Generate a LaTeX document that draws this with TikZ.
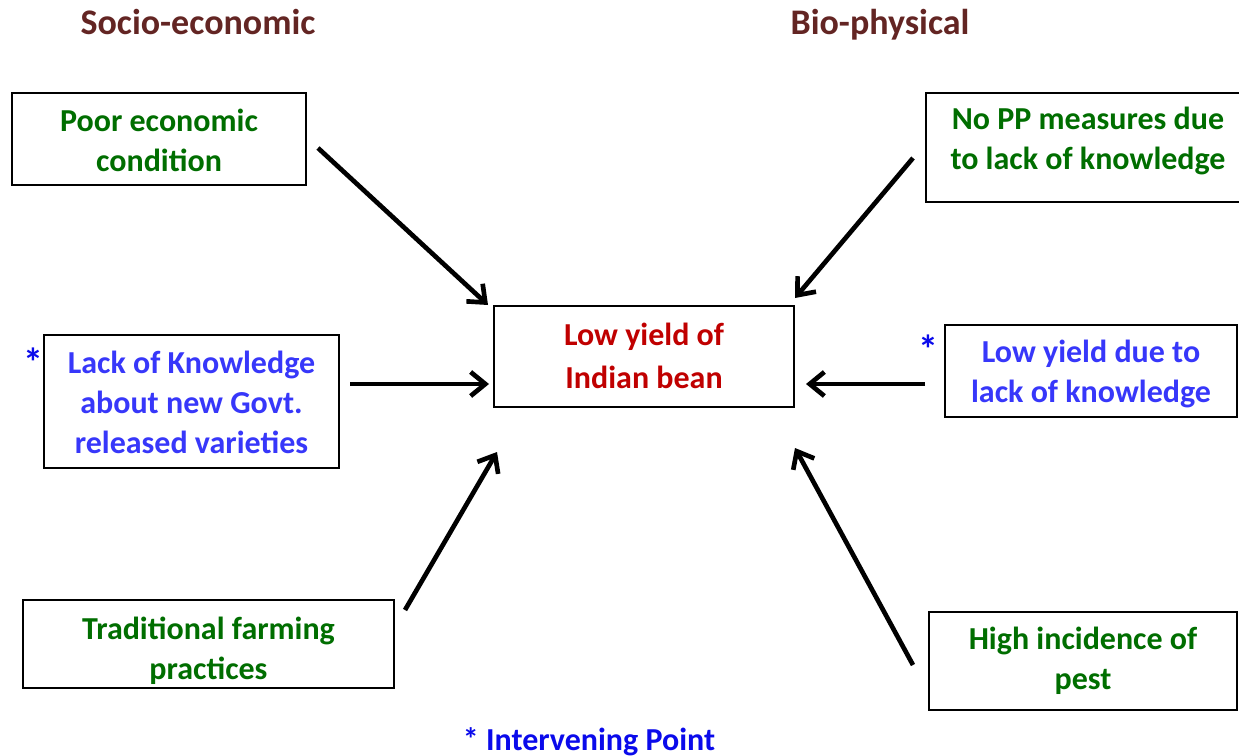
\documentclass[tikz,border=0pt]{standalone}
\usepackage{fontspec}
\setmainfont{Carlito}
\usetikzlibrary{arrows.meta}
\definecolor{titlebrown}{RGB}{99,37,35}
\definecolor{boxgreen}{RGB}{0,110,0}
\definecolor{boxblue}{RGB}{55,55,250}
\definecolor{starblue}{RGB}{10,10,235}
\definecolor{boxred}{RGB}{192,0,0}
\tikzset{
  every node/.style={font=\bfseries\fontsize{24}{30}\selectfont},
  frame/.style={draw=black, line width=2.2pt, fill=white, inner sep=0pt},
  centerframe/.style={draw=black, line width=1.6pt, fill=white, inner sep=0pt},
  greentext/.style={align=center, text=boxgreen, inner sep=0pt},
  bluetext/.style={align=center, text=boxblue, inner sep=0pt},
  redtext/.style={align=center, text=boxred, inner sep=0pt, font=\bfseries\fontsize{24}{32}\selectfont},
  titletext/.style={text=titlebrown, font=\bfseries\fontsize{27}{32}\selectfont, anchor=base},
  startext/.style={text=starblue, anchor=base, font=\bfseries\fontsize{30}{32}\selectfont},
  causearrow/.style={line width=3.5pt, -{Straight Barb[length=11pt,width=18pt]}},
}
\begin{document}
\begin{tikzpicture}[x=0.75pt,y=-0.75pt]
\useasboundingbox (0,0) rectangle (1239,756);
% titles
\node[titletext] (t1) at (198,35) {Socio-economic};
\node[titletext] (t2) at (880,35) {Bio-physical};
% frames
\node[frame, minimum width=294*0.75pt, minimum height=92*0.75pt] (poorbox) at (159,139) {};
\node[centerframe, minimum width=300*0.75pt, minimum height=101*0.75pt] (lowbox) at (644,356.5) {};
\node[frame, minimum width=295*0.75pt, minimum height=133*0.75pt] (lackbox) at (191.5,401.5) {};
\node[frame, minimum width=371*0.75pt, minimum height=88*0.75pt] (tradbox) at (208.5,644) {};
\node[frame, minimum width=330*0.75pt, minimum height=109*0.75pt] (noppbox) at (1091,147.5) {};
\node[frame, minimum width=292*0.75pt, minimum height=92*0.75pt] (lowduebox) at (1091,371) {};
\node[frame, minimum width=308*0.75pt, minimum height=98*0.75pt] (highbox) at (1083,661) {};
% texts
\node[greentext] (poor) at (159,140) {Poor economic\\condition};
\node[redtext] (low) at (644,356) {Low yield of\\Indian bean};
\node[bluetext] (lack) at (191.5,402.5) {Lack of Knowledge\\about new Govt.\\released varieties};
\node[greentext] (trad) at (208.5,650.5) {Traditional farming\\practices};
\node[greentext] (nopp) at (1088,141) {No PP measures due\\to lack of knowledge};
\node[bluetext] (lowdue) at (1091,374) {Low yield due to\\lack of knowledge};
\node[greentext] (high) at (1083,661) {High incidence of\\pest};
% stars
\node[startext] (s1) at (33,376) {*};
\node[startext] (s2) at (928,363) {*};
\node[text=starblue, anchor=base] (ip) at (589,750) {* Intervening Point};
% arrow end points
\coordinate (a1s) at (318,148); \coordinate (a1e) at (488,305);
\coordinate (a2s) at (350,384); \coordinate (a2e) at (489,384);
\coordinate (a3s) at (405,610); \coordinate (a3e) at (497,452);
\coordinate (a4s) at (913,158); \coordinate (a4e) at (795,298);
\coordinate (a5s) at (925,384); \coordinate (a5e) at (806,384);
\coordinate (a6s) at (913,665); \coordinate (a6e) at (795,448);
\draw[causearrow] (a1s) -- (a1e);
\draw[causearrow] (a2s) -- (a2e);
\draw[causearrow] (a3s) -- (a3e);
\draw[causearrow] (a4s) -- (a4e);
\draw[causearrow] (a5s) -- (a5e);
\draw[causearrow] (a6s) -- (a6e);
\end{tikzpicture}
\end{document}
